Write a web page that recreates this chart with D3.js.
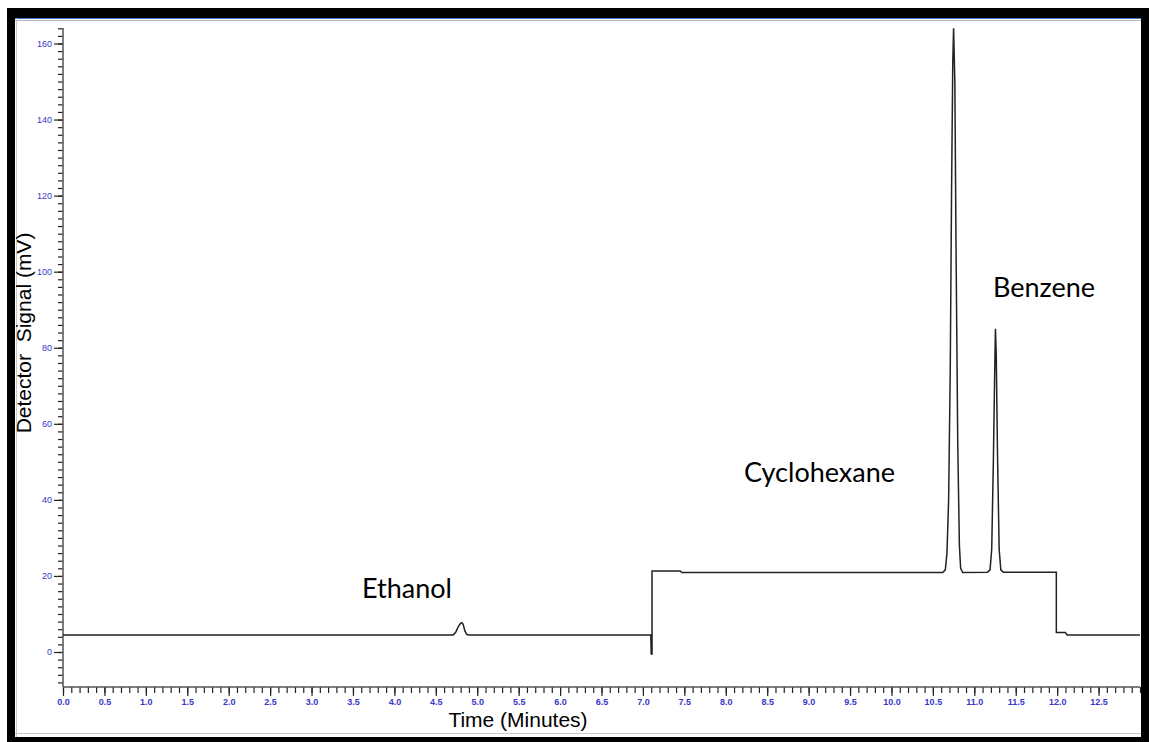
<!DOCTYPE html>
<html lang="en">
<head>
<meta charset="utf-8">
<title>Chromatogram</title>
<script src="https://d3js.org/d3.v7.min.js"></script>
<style>
  body { margin: 0; background: #fff; }
</style>
</head>
<body>
<script type="text/javascript">

// detector trace: [time (min), signal (mV)]
var traceTime = [0.0, 4.71, 4.74, 4.77, 4.80, 4.815, 4.83, 4.85, 4.875, 4.90,
  7.095, 7.10, 7.11, 7.11, 7.45, 7.47,
  10.62, 10.65, 10.67, 10.69, 10.71, 10.725, 10.74, 10.75, 10.765, 10.78, 10.80, 10.82, 10.835, 10.86,
  11.16, 11.19, 11.21, 11.23, 11.245, 11.255, 11.265, 11.28, 11.30, 11.32, 11.35,
  11.99, 11.99, 12.10, 12.12, 13.0];
var traceSignal = [4.5, 4.5, 5.2, 6.6, 7.6, 7.7, 7.3, 5.6, 4.6, 4.5,
  4.5, -0.5, -0.5, 21.3, 21.3, 20.9,
  20.9, 21.6, 26, 40, 75, 120, 155, 164, 150, 105, 55, 28, 22, 20.9,
  21.0, 21.6, 27, 50, 72, 85, 78, 52, 27, 21.6, 21.0,
  21.0, 5.1, 5.1, 4.5, 4.5];

// axis ticks
var yTickLabels = [0, 20, 40, 60, 80, 100, 120, 140, 160];
var xTickLabels = ["0.0", "0.5", "1.0", "1.5", "2.0", "2.5", "3.0", "3.5", "4.0", "4.5", "5.0",
  "5.5", "6.0", "6.5", "7.0", "7.5", "8.0", "8.5", "9.0", "9.5", "10.0", "10.5", "11.0",
  "11.5", "12.0", "12.5"];

// peak names
var peakNames = ["Ethanol", "Cyclohexane", "Benzene"];

var w = 1149;
var h = 742;

var svg = d3.select("body").append("svg")
  .attr("width", w)
  .attr("height", h);

// window frame
svg.append("rect").attr("x", 0).attr("y", 0).attr("width", w).attr("height", h).attr("fill", "#fff");
svg.append("rect").attr("x", 7).attr("y", 8).attr("width", w - 7).attr("height", 10).attr("fill", "#000");
svg.append("rect").attr("x", 7).attr("y", 8).attr("width", 8).attr("height", h - 8).attr("fill", "#000");
svg.append("rect").attr("x", 1141).attr("y", 8).attr("width", 8).attr("height", h - 8).attr("fill", "#000");
svg.append("rect").attr("x", 7).attr("y", 737).attr("width", w - 7).attr("height", 5).attr("fill", "#000");
svg.append("line").attr("x1", 15).attr("x2", 1141).attr("y1", 18.5).attr("y2", 18.5)
  .attr("stroke", "#3a78c8").attr("stroke-width", 1);
svg.append("line").attr("x1", 15).attr("x2", 1141).attr("y1", 20.5).attr("y2", 20.5)
  .attr("stroke", "#b8b8b8").attr("stroke-width", 1);
svg.append("line").attr("x1", 15).attr("x2", 1141).attr("y1", 733.5).attr("y2", 733.5)
  .attr("stroke", "#c8c8c8").attr("stroke-width", 1);
svg.append("line").attr("x1", 16.5).attr("x2", 16.5).attr("y1", 18).attr("y2", 737)
  .attr("stroke", "#c8c8c8").attr("stroke-width", 1);

// scales
var xScale = d3.scaleLinear().domain([0, 13.0]).range([63, 1140]);
var yScale = d3.scaleLinear().domain([0, 160]).range([652, 43.5]);
var yMin = yScale.invert(687);
var yMax = yScale.invert(28);

var tickColor = "#3838c8";

// y axis
var yAxis = d3.axisLeft(yScale)
  .tickValues(d3.range(-8, yMax, 2))
  .tickSize(5)
  .tickFormat("");
var gy = svg.append("g").attr("transform", "translate(63,0)").call(yAxis);
gy.select(".domain").remove();
gy.selectAll("line").attr("stroke", "#222").attr("stroke-width", 1.2);

var yAxisMajor = d3.axisLeft(yScale)
  .tickValues(yTickLabels)
  .tickSize(9)
  .tickPadding(2);
var gy2 = svg.append("g").attr("transform", "translate(63,0)").call(yAxisMajor);
gy2.select(".domain").remove();
gy2.selectAll("line").attr("stroke", "#222").attr("stroke-width", 1.2);
gy2.selectAll("text").attr("fill", tickColor).style("font-family", "Liberation Sans, Arial, sans-serif")
  .style("font-size", "9px");

svg.append("line")
  .attr("x1", 63).attr("x2", 63)
  .attr("y1", yScale(yMax)).attr("y2", yScale(yMin))
  .attr("stroke", "#555").attr("stroke-width", 1.5);

// x axis
var xAxis = d3.axisBottom(xScale)
  .tickValues(d3.range(0, 131).map(function(d) { return d / 10; }))
  .tickSize(6)
  .tickFormat("");
var gx = svg.append("g").attr("transform", "translate(0,687)").call(xAxis);
gx.select(".domain").remove();
gx.selectAll("line").attr("stroke", "#222").attr("stroke-width", 1.2);

var xAxisMajor = d3.axisBottom(xScale)
  .tickValues(xTickLabels.map(Number))
  .tickSize(9)
  .tickPadding(3)
  .tickFormat(function(d, i) { return xTickLabels[i]; });
var gx2 = svg.append("g").attr("transform", "translate(0,687)").call(xAxisMajor);
gx2.select(".domain").remove();
gx2.selectAll("line").attr("stroke", "#222").attr("stroke-width", 1.2);
gx2.selectAll("text").attr("fill", tickColor).style("font-family", "Liberation Sans, Arial, sans-serif")
  .style("font-size", "9px").style("font-weight", "bold");

svg.append("line")
  .attr("x1", 63).attr("x2", 1140)
  .attr("y1", 687).attr("y2", 687)
  .attr("stroke", "#555").attr("stroke-width", 1.5);

// trace
var trace = traceTime.map(function(t, i) { return [t, traceSignal[i]]; });
var line = d3.line()
  .x(function(d) { return xScale(d[0]); })
  .y(function(d) { return yScale(d[1]); });
svg.append("path")
  .datum(trace)
  .attr("d", line)
  .attr("fill", "none")
  .attr("stroke", "#222")
  .attr("stroke-width", 1.5);

// axis titles
svg.append("text")
  .attr("x", 518).attr("y", 727)
  .attr("text-anchor", "middle")
  .style("font-family", "Liberation Sans, Arial, sans-serif")
  .style("font-size", "21px")
  .text("Time (Minutes)");

svg.append("text")
  .attr("transform", "translate(31,333) rotate(-90)")
  .attr("text-anchor", "middle")
  .style("font-family", "Liberation Sans, Arial, sans-serif")
  .style("font-size", "21px")
  .style("white-space", "pre")
  .text("Detector  Signal (mV)");

// peak labels
var labelX = [362, 744, 993];
var labelY = [598, 482, 297];
svg.selectAll(".peak")
  .data(peakNames)
  .enter()
  .append("text")
  .attr("class", "peak")
  .attr("x", function(d, i) { return labelX[i]; })
  .attr("y", function(d, i) { return labelY[i]; })
  .style("font-family", "Lato, sans-serif")
  .style("font-size", "27px")
  .text(function(d) { return d; });

</script>
</body>
</html>
